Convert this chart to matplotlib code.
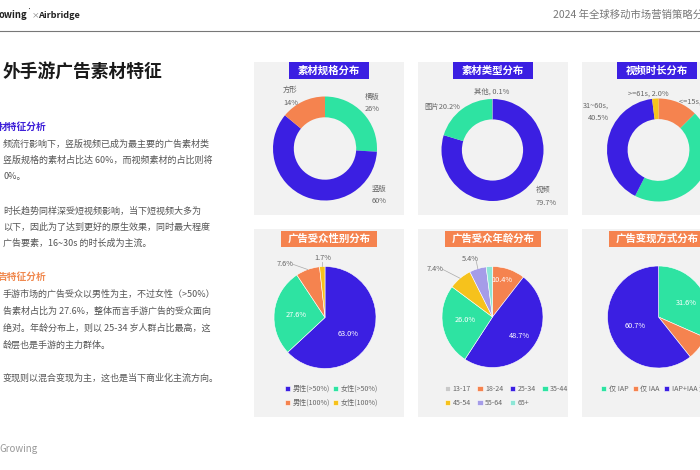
import matplotlib
matplotlib.use('Agg')
import matplotlib.pyplot as plt
from matplotlib.patches import Rectangle
import numpy as np

plt.rcParams['font.family'] = ['Noto Sans CJK SC', 'DejaVu Sans']

# ---------------- data ----------------
spec_labels = ['横版', '竖版', '方形']
spec_values = [26, 60, 14]

type_labels = ['视频', '图片', '其他']
type_values = [79.7, 20.2, 0.1]

dur_labels = ['<=15s', '16~30s', '31~60s', '>=61s']
dur_values = [12.5, 45.0, 40.5, 2.0]

gender_labels = ['男性(>50%)', '女性(>50%)', '男性(100%)', '女性(100%)']
gender_values = [63.0, 27.6, 7.6, 1.7]

age_labels = ['13-17', '18-24', '25-34', '35-44', '45-54', '55-64', '65+']
age_values = [0.1, 10.4, 48.7, 26.0, 7.4, 5.4, 2.0]

mon_labels = ['仅 IAP', '仅 IAA', 'IAP+IAA 混合']
mon_values = [31.6, 7.7, 60.7]

panel_titles = ['素材规格分布', '素材类型分布', '视频时长分布',
                '广告受众性别分布', '广告受众年龄分布', '广告变现方式分布']

page_title = '外手游广告素材特征'
head1 = '材特征分析'
para1 = ['频流行影响下，竖版视频已成为最主要的广告素材类',
         '竖版规格的素材占比达 60%，而视频素材的占比则将',
         '0%。']
para2 = ['时长趋势同样深受短视频影响，当下短视频大多为',
         '以下，因此为了达到更好的原生效果，同时最大程度',
         '广告要素，16~30s 的时长成为主流。']
head2 = '告特征分析'
para3 = ['手游市场的广告受众以男性为主，不过女性（>50%）',
         '告素材占比为 27.6%，整体而言手游广告的受众面向',
         '绝对。年龄分布上，则以 25-34 岁人群占比最高，这',
         '龄层也是手游的主力群体。']
para4 = ['变现则以混合变现为主，这也是当下商业化主流方向。']

# ---------------- style ----------------
BLUE = '#3b1fe2'
TEAL = '#2ee3a2'
ORANGE = '#f5834f'
YELLOW = '#f6c21c'
LAV = '#a59ce8'
LTEAL = '#8de6d6'
LGRAY = '#c9c9c9'
PANEL = '#f2f2f2'
BODY = '#555555'

W, H = 700, 470
fig = plt.figure(figsize=(7, 4.7), dpi=100)
fig.patch.set_facecolor('white')
bg = fig.add_axes([0, 0, 1, 1])
bg.set_xlim(0, W)
bg.set_ylim(H, 0)
bg.axis('off')

# header
bg.text(-1, 15, 'owing', fontsize=6.8, fontweight='bold', color='#222222', va='center', ha='left')
bg.text(26, 10.5, '•', fontsize=3.5, color='#222222', va='center', ha='left')
bg.text(31.5, 15.5, '×', fontsize=5.5, color='#777777', va='center', ha='left')
bg.text(38, 15, 'Airbridge', fontsize=6.6, fontweight='bold', color='#222222', va='center', ha='left')
bg.text(553, 15, '2024 年全球移动市场营销策略分析', fontsize=7.45, color='#777777', va='center', ha='left')
bg.plot([0, W], [30.5, 30.5], color='#777777', lw=0.8)

# left text
bg.text(3, 72, page_title, fontsize=12.8, fontweight='bold', color='#1a1a1a', va='center', ha='left')
bg.text(-2, 127, head1, fontsize=7, fontweight='bold', color='#3d1fd8', va='center', ha='left')
for i, s in enumerate(para1):
    bg.text(3, 144 + i * 16.3, s, fontsize=6.5, color=BODY, va='center', ha='left')
for i, s in enumerate(para2):
    bg.text(3, 211 + i * 16.3, s, fontsize=6.5, color=BODY, va='center', ha='left')
bg.text(-2, 277, head2, fontsize=7, fontweight='bold', color='#f0894f', va='center', ha='left')
for i, s in enumerate(para3):
    bg.text(3, 294 + i * 17, s, fontsize=6.5, color=BODY, va='center', ha='left')
for i, s in enumerate(para4):
    bg.text(3, 378 + i * 17, s, fontsize=6.5, color=BODY, va='center', ha='left')
bg.text(-1, 449, 'Growing', fontsize=7, color='#999999', va='center', ha='left')

# panels
panel_x = [254, 418, 582]
for px in panel_x:
    bg.add_patch(Rectangle((px, 62), 150, 153, facecolor=PANEL, edgecolor='none'))
    bg.add_patch(Rectangle((px, 229), 150, 188, facecolor=PANEL, edgecolor='none'))

for i, px in enumerate(panel_x):
    cxp = px + 75
    bg.add_patch(Rectangle((cxp - 40, 62), 80, 17, facecolor=BLUE, edgecolor='none'))
    bg.text(cxp, 70.5, panel_titles[i], fontsize=7.5, fontweight='bold', color='white',
            ha='center', va='center')
    bg.add_patch(Rectangle((cxp - 48, 231), 96, 16, facecolor=ORANGE, edgecolor='none'))
    bg.text(cxp, 239, panel_titles[i + 3], fontsize=7.5, fontweight='bold', color='white',
            ha='center', va='center')


def pie_ax(cx, cy, R, L=1.4):
    s = 2 * L * R
    ax = fig.add_axes([(cx - s / 2) / W, 1 - (cy + s / 2) / H, s / W, s / H])
    return ax, L


def finish(ax, L):
    ax.set_xlim(-L, L)
    ax.set_ylim(-L, L)
    ax.set_aspect('equal')
    ax.axis('off')


LBL = dict(fontsize=5.3, color='#666666')
INL = dict(fontsize=5.3, color='white')


def leader(ax, w, x, y):
    mid = np.deg2rad((w.theta1 + w.theta2) / 2)
    ax.plot([np.cos(mid) * 1.0, x], [np.sin(mid) * 1.0, y], color='#aaaaaa', lw=0.5)


# --- donut 1: spec
ax, L = pie_ax(325, 148.5, 52)
w1, _ = ax.pie(spec_values, colors=[TEAL, BLUE, ORANGE], startangle=90, counterclock=False,
               wedgeprops=dict(width=0.4, edgecolor='none'))
finish(ax, L)
pos = [(0.77, 0.87, 'left'), (0.9, -0.9, 'left'), (-0.81, 1.0, 'left')]
for (x, y, ha), lab, v in zip(pos, spec_labels, spec_values):
    ax.text(x, y, f'{lab}\n{v}%', ha=ha, va='center', linespacing=1.7, **LBL)

# --- donut 2: type
ax, L = pie_ax(492.5, 150, 51)
w2, _ = ax.pie(type_values, colors=[BLUE, TEAL, LGRAY], startangle=90, counterclock=False,
               wedgeprops=dict(width=0.4, edgecolor='none'))
finish(ax, L)
ax.text(0.85, -0.91, f'{type_labels[0]}\n{type_values[0]}%', ha='left', va='center', linespacing=1.7, **LBL)
ax.text(-1.34, 0.84, f'{type_labels[1]}{type_values[1]}%', ha='left', va='center', **LBL)
ax.text(-0.02, 1.14, f'{type_labels[2]}, {type_values[2]}%', ha='center', va='center', **LBL)

# --- donut 3: duration
ax, L = pie_ax(658.5, 150, 51.5)
w3, _ = ax.pie(dur_values, colors=[ORANGE, TEAL, BLUE, YELLOW], startangle=90, counterclock=False,
               wedgeprops=dict(width=0.4, edgecolor='none'))
finish(ax, L)
ax.text(0.4, 0.93, f'{dur_labels[0]}, {dur_values[0]}%', ha='left', va='center', **LBL)
ax.text(1.05, -0.9, f'{dur_labels[1]}, {dur_values[1]}%', ha='left', va='center', **LBL)
ax.text(-0.96, 0.74, f'{dur_labels[2]},\n{dur_values[2]}%', ha='right', va='center', linespacing=1.7, **LBL)
ax.text(-0.19, 1.1, f'{dur_labels[3]}, {dur_values[3]}%', ha='center', va='center', **LBL)


def legend(ax, wedges, labels, order, ncol, x, y, colsp):
    hs = [wedges[i] for i in order]
    ls = [labels[i] for i in order]
    ax.legend(hs, ls, ncol=ncol, loc='upper left', bbox_to_anchor=(x / W, 1 - y / H),
              bbox_transform=fig.transFigure, frameon=False, fontsize=5.1, labelcolor='#666666',
              handlelength=0.75, handleheight=0.75, handletextpad=0.35, columnspacing=colsp,
              labelspacing=0.8, borderpad=0, borderaxespad=0)


# --- pie 4: gender
ax, L = pie_ax(325, 317.5, 51)
w4, _ = ax.pie(gender_values, colors=[BLUE, TEAL, ORANGE, YELLOW], startangle=90, counterclock=False,
               wedgeprops=dict(edgecolor='white', linewidth=0.4))
finish(ax, L)
ax.text(0.45, -0.32, f'{gender_values[0]:.1f}%', ha='center', va='center', **INL)
ax.text(-0.57, 0.05, f'{gender_values[1]:.1f}%', ha='center', va='center', **INL)
ax.text(-0.78, 1.05, f'{gender_values[2]:.1f}%', ha='center', va='center', **LBL)
leader(ax, w4[2], -0.62, 1.04)
ax.text(-0.04, 1.16, f'{gender_values[3]:.1f}%', ha='center', va='center', **LBL)
leader(ax, w4[3], -0.05, 1.08)
legend(ax, w4, gender_labels, [0, 2, 1, 3], 2, 285, 385, 0.4)

# --- pie 5: age
ax, L = pie_ax(492.5, 317, 50.5)
w5, _ = ax.pie(age_values, colors=[LGRAY, ORANGE, BLUE, TEAL, YELLOW, LAV, LTEAL], startangle=90,
               counterclock=False, wedgeprops=dict(edgecolor='white', linewidth=0.4))
finish(ax, L)
ax.text(0.19, 0.73, f'{age_values[1]:.1f}%', ha='center', va='center', **INL)
ax.text(0.54, -0.38, f'{age_values[2]:.1f}%', ha='center', va='center', **INL)
ax.text(-0.54, -0.06, f'{age_values[3]:.1f}%', ha='center', va='center', **INL)
ax.text(-1.14, 0.95, f'{age_values[4]:.1f}%', ha='center', va='center', **LBL)
leader(ax, w5[4], -0.98, 0.94)
ax.text(-0.44, 1.15, f'{age_values[5]:.1f}%', ha='center', va='center', **LBL)
leader(ax, w5[5], -0.32, 1.1)
legend(ax, w5, age_labels, [0, 4, 1, 5, 2, 6, 3], 4, 445, 385, 0.9)

# --- pie 6: monetization
ax, L = pie_ax(658.5, 317, 51)
w6, _ = ax.pie(mon_values, colors=[TEAL, ORANGE, BLUE], startangle=90, counterclock=False,
               wedgeprops=dict(edgecolor='white', linewidth=0.4))
finish(ax, L)
ax.text(0.54, 0.27, f'{mon_values[0]:.1f}%', ha='center', va='center', **INL)
ax.text(-0.46, -0.18, f'{mon_values[2]:.1f}%', ha='center', va='center', **INL)
legend(ax, w6, mon_labels, [0, 1, 2], 3, 601, 385, 0.6)

fig.savefig('out.png', dpi=100, facecolor='white')
